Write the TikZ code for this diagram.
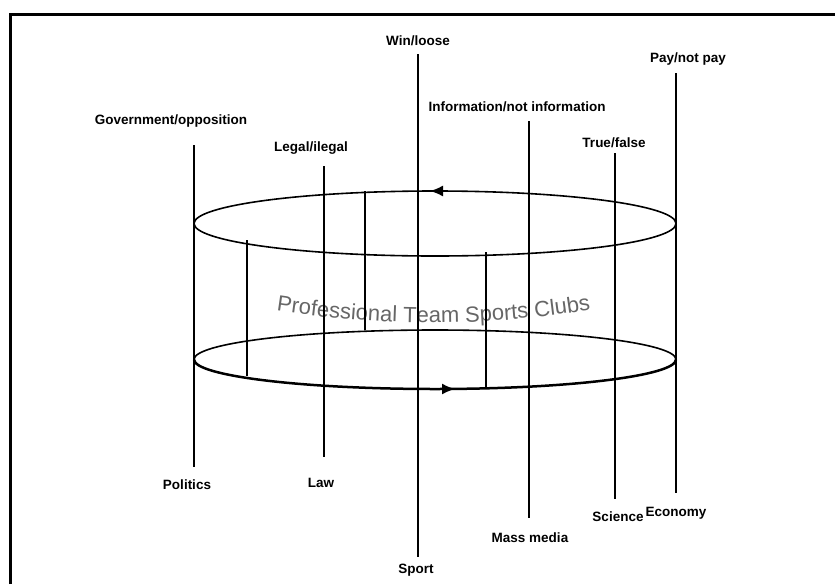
\documentclass[tikz,border=0pt]{standalone}
\usepackage{fontspec}
\setmainfont{Liberation Sans}
\usetikzlibrary{arrows.meta,decorations.text}
\begin{document}
\begin{tikzpicture}[x=1pt,y=1pt]

	\tikzstyle{codetext} = [font=\fontsize{13.5}{15}\selectfont\bfseries, inner sep=0pt]
	\tikzstyle{sysline} = [line width=1.8pt]
	\tikzstyle{ring} = [line width=1.6pt]
	\tikzstyle{arrow} = [line width=1.6pt,-{Latex[length=13pt,width=11pt]}]

	\useasboundingbox (0,0) rectangle (835,-584);
	\draw[line width=3pt] (10,-584) -- (10,-14) -- (835,-14);

	% the club as a cylinder
	\draw[ring] (435,-223.5) ellipse [x radius=241pt, y radius=32.5pt];
	\draw[ring] (194,-359.5) arc [start angle=180, end angle=0, x radius=241pt, y radius=29.5pt];
	\draw[ring, line width=2.5pt] (194,-359.5) arc [start angle=180, end angle=360, x radius=241pt, y radius=29.5pt];
	\coordinate (top from) at (448,-191);
	\coordinate (top to) at (430,-191);
	\coordinate (bot from) at (436,-389);
	\coordinate (bot to) at (455,-389);
	\draw[arrow] (top from) -- (top to);
	\draw[arrow] (bot from) -- (bot to);

	\path[decorate, decoration={text along path, text align=center,
		text={|\fontsize{22}{25}\selectfont\color{black!60}|Professional Team Sports Clubs}}]
		(271,-310) .. controls (380,-327) and (490,-327) .. (596,-309);

	% inner struts
	\coordinate (in1 a) at (247,-240);
	\coordinate (in1 b) at (247,-376);
	\coordinate (in2 a) at (365,-191);
	\coordinate (in2 b) at (365,-330);
	\coordinate (in3 a) at (486,-252);
	\coordinate (in3 b) at (486,-389);
	\draw[sysline] (in1 a) -- (in1 b);
	\draw[sysline] (in2 a) -- (in2 b);
	\draw[sysline] (in3 a) -- (in3 b);

	% function systems and their codes
	\node[codetext] (govopp) at (171,-121) {Government/opposition};
	\node[codetext] (politics) at (187,-485) {Politics};
	\node[codetext] (legal) at (311,-148) {Legal/ilegal};
	\node[codetext] (law) at (321,-483) {Law};
	\node[codetext] (winloose) at (418,-41) {Win/loose};
	\node[codetext] (sport) at (416,-570) {Sport};
	\node[codetext] (info) at (517,-107) {Information/not information};
	\node[codetext] (massmedia) at (530,-538) {Mass media};
	\node[codetext] (truefalse) at (614,-143) {True/false};
	\node[codetext] (science) at (618,-517) {Science};
	\node[codetext] (paynot) at (688,-59) {Pay/not pay};
	\node[codetext] (economy) at (676,-513) {Economy};

	\coordinate (pol a) at (194,-145);
	\coordinate (pol b) at (194,-467);
	\coordinate (law a) at (324,-166);
	\coordinate (law b) at (324,-457);
	\coordinate (spo a) at (418,-54);
	\coordinate (spo b) at (418,-557);
	\coordinate (mas a) at (529,-121);
	\coordinate (mas b) at (529,-518);
	\coordinate (sci a) at (615,-153);
	\coordinate (sci b) at (615,-499);
	\coordinate (eco a) at (676,-73);
	\coordinate (eco b) at (676,-493);
	\draw[sysline] (pol a) -- (pol b);
	\draw[sysline] (law a) -- (law b);
	\draw[sysline] (spo a) -- (spo b);
	\draw[sysline] (mas a) -- (mas b);
	\draw[sysline] (sci a) -- (sci b);
	\draw[sysline] (eco a) -- (eco b);

\end{tikzpicture}
\end{document}
